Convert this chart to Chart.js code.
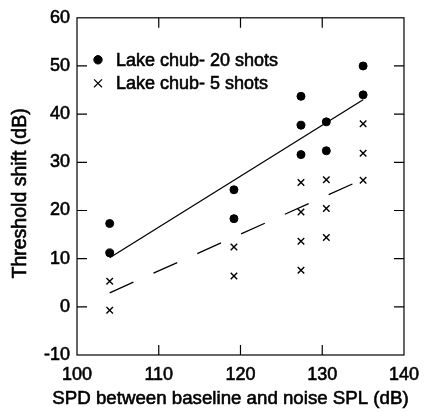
<!DOCTYPE html>
<html lang="en">
<head>
  <meta charset="UTF-8" />
  <title>Threshold shift vs SPD</title>
  <script src="https://cdn.jsdelivr.net/npm/chart.js"></script>
  <style>
    * { margin: 0; padding: 0; box-sizing: border-box; }
    body { background: #fff; }
    .wrap { position: relative; width: 428px; height: 412px; }
  </style>
</head>
<body>
  <div class="wrap"><canvas id="tsChart"></canvas></div>

  <script>
    // Lake chub, 20 shots (filled circles)
    const shots20X = [104, 104, 119.2, 119.2, 127.4, 127.4, 127.4, 130.5, 130.5, 135, 135];
    const shots20Y = [17.3, 11.2, 24.3, 18.3, 43.7, 37.7, 31.6, 38.4, 32.4, 50, 44];

    // Lake chub, 5 shots (crosses)
    const shots5X = [104, 104, 119.2, 119.2, 127.4, 127.4, 127.4, 127.4, 130.5, 130.5, 130.5, 135, 135, 135];
    const shots5Y = [5.3, -0.7, 12.4, 6.4, 25.8, 19.7, 13.6, 7.6, 26.4, 20.4, 14.4, 38, 31.9, 26.3];

    // regression lines
    const fit20X = [104, 135];
    const fit20Y = [10.2, 43.0];
    const fit5X = [104, 135];
    const fit5Y = [2.9, 26.5];

    const xTicks = [100, 110, 120, 130, 140];
    const yTicks = [-10, 0, 10, 20, 30, 40, 50, 60];

    const legendLabels = ['Lake chub- 20 shots', 'Lake chub- 5 shots'];
    const xTitle = 'SPD between baseline and noise SPL (dB)';
    const yTitle = 'Threshold shift (dB)';

    const pts = (xs, ys) => xs.map((x, i) => ({ x: x, y: ys[i] }));
    const FONT = 'Arial, "Liberation Sans", Helvetica, sans-serif';
    const STROKE = 0.6; // the scan's text is a little heavier than plain Arial

    function heavyText(ctx, text, x, y) {
      ctx.fillText(text, x, y);
      ctx.lineWidth = STROKE;
      ctx.strokeText(text, x, y);
    }

    // box round the plot with short ticks pointing inward
    const framePlugin = {
      id: 'frame',
      afterDatasetsDraw(chart) {
        const { ctx, chartArea: a, scales } = chart;
        ctx.save();
        ctx.strokeStyle = '#000';
        ctx.lineWidth = 1.2;
        ctx.strokeRect(a.left, a.top, a.right - a.left, a.bottom - a.top);
        ctx.beginPath();
        const len = 10;
        scales.x.ticks.forEach(t => {
          if (t.value <= xTicks[0] || t.value >= xTicks[xTicks.length - 1]) return;
          const px = scales.x.getPixelForValue(t.value);
          ctx.moveTo(px, a.bottom); ctx.lineTo(px, a.bottom - len);
          ctx.moveTo(px, a.top); ctx.lineTo(px, a.top + len);
        });
        scales.y.ticks.forEach(t => {
          if (t.value <= yTicks[0] || t.value >= yTicks[yTicks.length - 1]) return;
          const py = scales.y.getPixelForValue(t.value);
          ctx.moveTo(a.left, py); ctx.lineTo(a.left + len, py);
          ctx.moveTo(a.right, py); ctx.lineTo(a.right - len, py);
        });
        ctx.stroke();
        ctx.restore();
      }
    };

    // axis titles (drawn here so the x title is not squeezed to the plot width)
    const titlesPlugin = {
      id: 'axisTitles',
      afterDraw(chart) {
        const { ctx, chartArea: a } = chart;
        ctx.save();
        ctx.fillStyle = '#000';
        ctx.strokeStyle = '#000';
        ctx.textAlign = 'center';
        ctx.textBaseline = 'alphabetic';
        ctx.font = '18.7px ' + FONT;
        heavyText(ctx, xTitle, 230.5, 403.5);
        ctx.translate(26, (a.top + a.bottom) / 2 + 7);
        ctx.rotate(-Math.PI / 2);
        ctx.font = '19.5px ' + FONT;
        heavyText(ctx, yTitle, 0, 0);
        ctx.restore();
      }
    };

    // legend in the upper left corner of the plot
    const legendPlugin = {
      id: 'cornerLegend',
      afterDraw(chart) {
        const { ctx, chartArea: a } = chart;
        const styles = [
          { pointStyle: 'circle', radius: 4.2, borderWidth: 1 },
          { pointStyle: 'crossRot', radius: 5.6, borderWidth: 1.2 }
        ];
        ctx.save();
        ctx.font = '18px ' + FONT;
        ctx.textBaseline = 'middle';
        ctx.textAlign = 'left';
        legendLabels.forEach((label, i) => {
          const y = a.top + 42 + i * 23.5;
          const x = a.left + 21;
          ctx.fillStyle = '#000';
          ctx.strokeStyle = '#000';
          ctx.lineWidth = styles[i].borderWidth;
          Chart.helpers.drawPoint(ctx, { pointStyle: styles[i].pointStyle, radius: styles[i].radius, rotation: 0, borderWidth: styles[i].borderWidth }, x, y);
          heavyText(ctx, label, a.left + 39, y + 1);
        });
        ctx.restore();
      }
    };

    const tickFont = { family: FONT, size: 18 };

    const ctx = document.getElementById('tsChart').getContext('2d');
    new Chart(ctx, {
      type: 'scatter',
      data: {
        datasets: [
          {
            label: legendLabels[0],
            data: pts(shots20X, shots20Y),
            pointStyle: 'circle',
            pointRadius: 4,
            pointBackgroundColor: '#000',
            pointBorderColor: '#000',
            pointBorderWidth: 1
          },
          {
            label: legendLabels[1],
            data: pts(shots5X, shots5Y),
            pointStyle: 'crossRot',
            pointRadius: 4.6,
            pointBorderColor: '#000',
            pointBorderWidth: 1.4
          },
          {
            label: 'fit 20',
            data: pts(fit20X, fit20Y),
            showLine: true,
            pointRadius: 0,
            borderColor: '#000',
            borderWidth: 1.3
          },
          {
            label: 'fit 5',
            data: pts(fit5X, fit5Y),
            showLine: true,
            pointRadius: 0,
            borderColor: '#000',
            borderWidth: 1.3,
            borderDash: [26, 22]
          }
        ]
      },
      options: {
        responsive: true,
        maintainAspectRatio: false,
        animation: false,
        layout: { padding: { top: 17, right: 15, left: 0, bottom: 0 } },
        plugins: {
          legend: { display: false },
          tooltip: { enabled: false }
        },
        scales: {
          x: {
            type: 'linear',
            min: xTicks[0],
            max: xTicks[xTicks.length - 1],
            afterBuildTicks: s => { s.ticks = xTicks.map(v => ({ value: v })); },
            afterFit: s => { s.height = 57; },
            grid: { display: false, drawTicks: false },
            border: { display: false },
            ticks: { color: '#000', padding: 9, font: tickFont, textStrokeColor: '#000', textStrokeWidth: STROKE }
          },
          y: {
            type: 'linear',
            min: yTicks[0],
            max: yTicks[yTicks.length - 1],
            afterBuildTicks: s => { s.ticks = yTicks.map(v => ({ value: v })); },
            afterFit: s => { s.width = 77; },
            grid: { display: false, drawTicks: false },
            border: { display: false },
            ticks: { color: '#000', padding: 7, font: tickFont, textStrokeColor: '#000', textStrokeWidth: STROKE }
          }
        }
      },
      plugins: [framePlugin, titlesPlugin, legendPlugin]
    });
  </script>
</body>
</html>
